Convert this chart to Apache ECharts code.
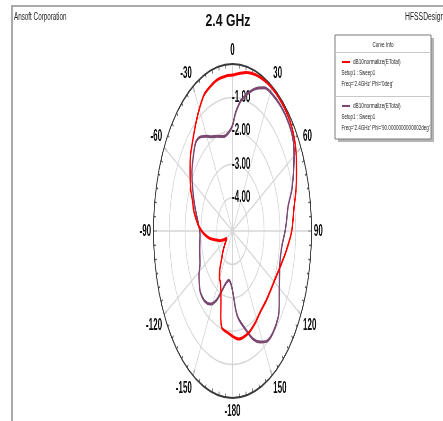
<!DOCTYPE html>
<html><head><meta charset="utf-8">
<script src="https://cdn.jsdelivr.net/npm/echarts@6/dist/echarts.min.js"></script>
<style>
html,body{margin:0;padding:0;background:#fff;overflow:hidden;width:443px;height:421px}
#a{position:absolute;left:0;top:0;width:443px;height:421px}
#b{position:absolute;left:0;top:0;height:421px;transform-origin:0 0}
</style></head>
<body><div id="a"></div><div id="b"></div>
<script>
// ---- data (angle in deg, normalized gain in dB) ----
const phi0Angles = [-180,-175,-170,-167,-164,-161,-157,-153,-150,-145,-140,-135,-130,-125,-121,-115,-110,-104,-98,-92,-86,-82,-76,-70,-65,-57,-50,-45,-38,-31,-24,-18,-12,-5,0,10,20,30,40,50,60,67,73,80,90,100,107,115,125,135,145,152,160,167,173,180];
const phi0Gain   = [-1.85,-1.93,-1.98,-2.02,-2.3,-2.75,-3.1,-3.3,-3.35,-3.6,-3.95,-4.15,-4.35,-4.5,-4.58,-4.38,-4.15,-3.9,-3.5,-3.15,-2.85,-2.7,-2.47,-2.3,-2.08,-1.8,-1.52,-1.37,-1.12,-0.83,-0.55,-0.45,-0.37,-0.34,-0.33,-0.18,-0.08,-0.04,-0.05,-0.12,-0.35,-0.6,-0.8,-1.05,-1.25,-1.55,-1.74,-1.9,-2.0,-2.02,-2.0,-1.9,-1.8,-1.75,-1.74,-1.85];
const phi90Angles = [-180,-176,-171,-165,-159,-154,-147,-140,-134,-130,-122,-115,-105,-93,-84,-73,-64,-56,-48,-41,-35,-30,-26,-19,-12,-5,0,3,8,15,20,25,30,40,48,55,60,66,72,78,85,90,99,108,115,121,127,132,140,147,152,158,165,172,175,178,180];
const phi90Gain   = [-3.22,-3.43,-3.51,-3.38,-3.06,-2.7,-2.39,-2.26,-2.25,-2.29,-2.5,-2.73,-2.85,-2.94,-2.82,-2.51,-2.2,-1.9,-1.66,-1.47,-1.55,-1.72,-1.86,-2.0,-2.11,-2.05,-1.84,-1.47,-1.05,-0.68,-0.45,-0.27,-0.2,-0.17,-0.2,-0.3,-0.5,-0.78,-1.06,-1.4,-1.57,-1.67,-1.85,-1.85,-1.72,-1.55,-1.3,-1.12,-1.02,-1.06,-1.24,-1.51,-1.98,-2.36,-2.62,-3.03,-3.22];
const radiusTicks = [-5,-4,-3,-2,-1,0];
const angleTicks = [0,30,60,90,120,150,180,210,240,270,300,330];
const seriesNames = ['dB10normalize(ETotal)','dB10normalize(ETotal)'];
const setupLabel = 'Setup1 : Sweep1';
const freqLabels = ["Freq='2.4GHz' Phi='0deg'", "Freq='2.4GHz' Phi='90.0000000000002deg'"];
const colors = ['#ff0000', '#7a4870'];

// ---- layout ----
const sx = 0.473;
const Wb = Math.round(443 / sx);
const bDiv = document.getElementById('b');
bDiv.style.width = Wb + 'px';
bDiv.style.transform = 'scaleX(' + sx + ')';

function toPolar(angles, gains) {
  return angles.map((a, i) => [gains[i], a < 0 ? a + 360 : a]);
}

const FONT = '"Liberation Sans", Arial, sans-serif';

// ---- instance A: frame, title, legend box ----
const chartA = echarts.init(document.getElementById('a'), null, {renderer: 'canvas'});
const legendX = 335, legendY = 35, legendW = 96, legendH = 104;
function txt(x, y, text, size, sc, extra) {
  return Object.assign({
    type: 'text', x: x, y: y, scaleX: sc,
    style: Object.assign({text: text, font: size + 'px ' + FONT, fill: '#222',
      align: 'left', verticalAlign: 'middle', textAlign: 'left', textVerticalAlign: 'middle'}, extra || {})
  });
}
const gA = [
  {type: 'rect', shape: {x: 12, y: 6, width: 700, height: 700}, style: {fill: '#fff', stroke: '#a9a9a9', lineWidth: 2}},
  txt(14, 17, 'Ansoft Corporation', 10, 0.63),
  txt(228, 21, '2.4 GHz', 17, 0.72, {font: 'bold 17px ' + FONT, align: 'center', textAlign: 'center', fill: '#111'}),
  txt(405, 17, 'HFSSDesign1', 10, 0.68),
  {type: 'rect', shape: {x: legendX + 3, y: legendY + 3, width: legendW, height: legendH}, style: {fill: '#b4b4b4'}},
  {type: 'rect', shape: {x: legendX, y: legendY, width: legendW, height: legendH}, style: {fill: '#fff', stroke: '#7a7a7a', lineWidth: 1}},
  txt(legendX + legendW / 2, 45, 'Curve Info', 7, 0.65, {align: 'center', textAlign: 'center'}),
  {type: 'line', shape: {x1: legendX, y1: 52.5, x2: legendX + legendW, y2: 52.5}, style: {stroke: '#c8c8c8', lineWidth: 1}},
  {type: 'line', shape: {x1: legendX, y1: 96.5, x2: legendX + legendW, y2: 96.5}, style: {stroke: '#c8c8c8', lineWidth: 1}}
];
[0, 1].forEach(i => {
  const y0 = i === 0 ? 62 : 106;
  gA.push({type: 'line', shape: {x1: 342, y1: y0, x2: 350, y2: y0}, style: {stroke: colors[i], lineWidth: 2}});
  gA.push(txt(353, y0, seriesNames[i], 7, 0.67));
  gA.push(txt(341.5, y0 + 11.5, setupLabel, 7, 0.63));
  gA.push(txt(341.5, y0 + 22, freqLabels[i], 7, 0.65));
});
chartA.setOption({animation: false, backgroundColor: '#fff', graphic: gA});

// ---- instance B: polar plot (horizontally compressed like the reference) ----
const chartB = echarts.init(bDiv, null, {renderer: 'canvas'});
const gridColor = '#d6d6d6';
chartB.setOption({
  animation: false,
  backgroundColor: 'transparent',
  polar: {center: [232.5 / sx, 231], radius: 167},
  angleAxis: {
    type: 'value', min: 0, max: 360, interval: 30, startAngle: 90, clockwise: true,
    axisLine: {show: true, lineStyle: {color: '#3a3a3a', width: 2}},
    axisTick: {show: true, inside: true, length: 7, lineStyle: {color: '#3a3a3a', width: 2}},
    minorTick: {show: true, splitNumber: 6, length: 4, lineStyle: {color: '#555', width: 1.5}},
    splitLine: {show: true, lineStyle: {color: gridColor, width: 1.5}},
    axisLabel: {
      margin: 5, fontSize: 17, fontWeight: 'bold', fontFamily: FONT, color: '#111',
      formatter: v => (v === 360 ? '' : String(v >= 180 ? v - 360 : v))
    }
  },
  radiusAxis: {
    type: 'value', min: -5, max: 0, interval: 1,
    axisLine: {show: false}, axisTick: {show: false},
    splitLine: {show: true, lineStyle: {color: gridColor, width: 1.5}},
    axisLabel: {
      fontSize: 17, fontWeight: 'bold', fontFamily: FONT, color: '#111',
      align: 'left', margin: 1,
      formatter: v => (v === 0 || v === -5) ? '' : v.toFixed(2)
    }
  },
  series: [
    {name: 'Phi=0', type: 'line', coordinateSystem: 'polar', data: toPolar(phi0Angles, phi0Gain),
     showSymbol: false, smooth: 0.3, lineStyle: {color: colors[0], width: 3}, z: 3},
    {name: 'Phi=90', type: 'line', coordinateSystem: 'polar', data: toPolar(phi90Angles, phi90Gain),
     showSymbol: false, smooth: 0.3, lineStyle: {color: colors[1], width: 3}, z: 2}
  ]
});
</script>
</body></html>
